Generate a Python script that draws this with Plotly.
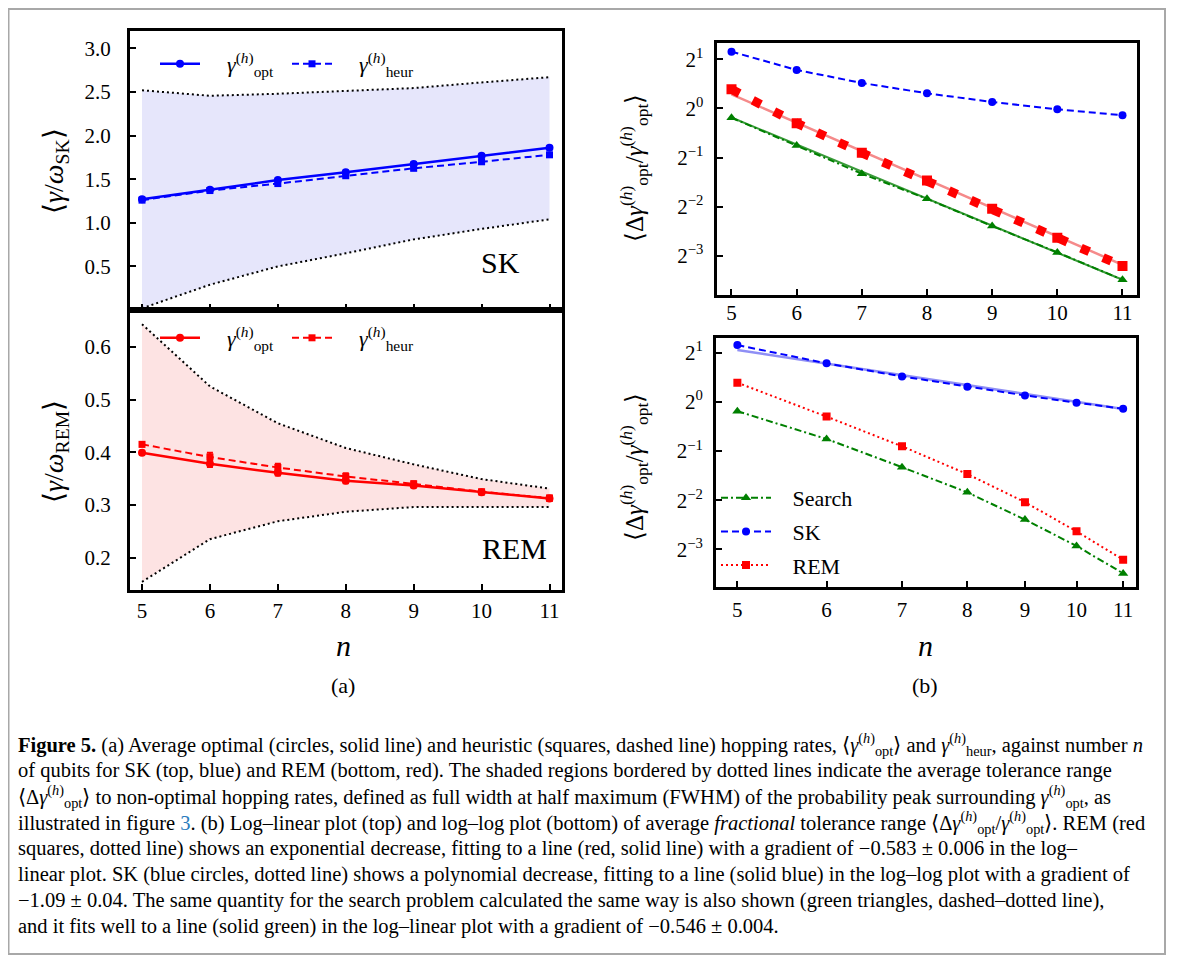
import plotly.graph_objects as go

# ---------------- data ----------------
n = [5, 6, 7, 8, 9, 10, 11]

# panel (a) top: SK
sk_opt = [1.27, 1.38, 1.49, 1.58, 1.675, 1.77, 1.86]
sk_heur = [1.26, 1.37, 1.45, 1.54, 1.625, 1.70, 1.78]
sk_opt_err = [0.02, 0.02, 0.02, 0.02, 0.02, 0.02, 0.02]
sk_heur_err = [0.02, 0.02, 0.02, 0.02, 0.02, 0.02, 0.02]
sk_upper = [2.52, 2.457, 2.48, 2.51, 2.545, 2.61, 2.67]
sk_lower = [0.02, 0.29, 0.50, 0.65, 0.81, 0.93, 1.04]

# panel (a) bottom: REM
rem_opt = [0.399, 0.378, 0.361, 0.346, 0.337, 0.324, 0.312]
rem_heur = [0.415, 0.391, 0.371, 0.354, 0.340, 0.325, 0.313]
rem_opt_err = [0.004, 0.006, 0.005, 0.005, 0.004, 0.004, 0.004]
rem_heur_err = [0.004, 0.008, 0.007, 0.006, 0.005, 0.004, 0.005]
rem_upper = [0.643, 0.525, 0.455, 0.408, 0.377, 0.349, 0.331]
rem_lower = [0.154, 0.235, 0.269, 0.287, 0.296, 0.296, 0.296]

# panel (b): fractional tolerance range
frac_sk = [2.228, 1.721, 1.432, 1.238, 1.095, 0.988, 0.908]
frac_rem = [1.31, 0.812, 0.534, 0.361, 0.243, 0.161, 0.108]
frac_search = [0.877, 0.592, 0.398, 0.279, 0.190, 0.131, 0.089]

# fitted lines (end points)
fit_n = [5, 11]
fit_rem = [1.22, 0.110]
fit_search = [0.88, 0.089]
fit_sk = [2.077, 0.905]

a_top_ticks = [0.5, 1.0, 1.5, 2.0, 2.5, 3.0]
a_bot_ticks = [0.2, 0.3, 0.4, 0.5, 0.6]
b_ticks = [2, 1, 0.5, 0.25, 0.125]
b_ticktext = ["2<sup>1</sup>", "2<sup>0</sup>", "2<sup>\u22121</sup>",
              "2<sup>\u22122</sup>", "2<sup>\u22123</sup>"]

caption_lines = [
    "<b>Figure 5.</b> (a) Average optimal (circles, solid line) and heuristic (squares, dashed line) hopping rates, "
    "\u27e8<i>\u03b3</i><sup>(<i>h</i>)</sup><sub>opt</sub>\u27e9 and <i>\u03b3</i><sup>(<i>h</i>)</sup><sub>heur</sub>, against number <i>n</i>",
    "of qubits for SK (top, blue) and REM (bottom, red). The shaded regions bordered by dotted lines indicate the average tolerance range",
    "\u27e8\u0394<i>\u03b3</i><sup>(<i>h</i>)</sup><sub>opt</sub>\u27e9 to non-optimal hopping rates, defined as full width at half maximum (FWHM) of the probability peak surrounding "
    "<i>\u03b3</i><sup>(<i>h</i>)</sup><sub>opt</sub>, as",
    "illustrated in figure <span style=\"color:#2b7bbd\">3</span>. (b) Log\u2013linear plot (top) and log\u2013log plot (bottom) of average <i>fractional</i> tolerance range "
    "\u27e8\u0394<i>\u03b3</i><sup>(<i>h</i>)</sup><sub>opt</sub>/<i>\u03b3</i><sup>(<i>h</i>)</sup><sub>opt</sub>\u27e9. REM (red",
    "squares, dotted line) shows an exponential decrease, fitting to a line (red, solid line) with a gradient of \u22120.583 \u00b1 0.006 in the log\u2013",
    "linear plot. SK (blue circles, dotted line) shows a polynomial decrease, fitting to a line (solid blue) in the log\u2013log plot with a gradient of",
    "\u22121.09 \u00b1 0.04. The same quantity for the search problem calculated the same way is also shown (green triangles, dashed\u2013dotted line),",
    "and it fits well to a line (solid green) in the log\u2013linear plot with a gradient of \u22120.546 \u00b1 0.004.",
]
caption_y = [744, 770, 796, 822, 848, 874, 900, 926]

# ---------------- geometry helpers ----------------
W, H, OFF = 1166, 947, 8


def px(x):
    return (x - OFF) / W


def py(y):
    return 1 - (y - OFF) / H


FONT = "Liberation Serif"
BLUE = "#0000ff"
RED = "#ff0000"
GREEN = "#008000"
DOT = "2px,3px"
DASH = "7px,4px"
DASHDOT = "7px,3px,2px,3px"
SP = "\u00a0"

fig = go.Figure()

# ---- (a) top: SK ----
fig.add_trace(go.Scatter(x=n, y=sk_lower, mode="lines", line=dict(color="black", width=2, dash=DOT),
                         xaxis="x", yaxis="y", showlegend=False, hoverinfo="skip"))
fig.add_trace(go.Scatter(x=n, y=sk_upper, mode="lines", line=dict(color="black", width=2, dash=DOT),
                         fill="tonexty", fillcolor="#e6e6fb",
                         xaxis="x", yaxis="y", showlegend=False, hoverinfo="skip"))
fig.add_trace(go.Scatter(x=n, y=sk_opt, mode="lines+markers",
                         name=SP * 4 + "<i>\u03b3</i><sup>(<i>h</i>)</sup><sub>opt</sub>",
                         line=dict(color=BLUE, width=2.5), marker=dict(symbol="circle", size=8, color=BLUE),
                         error_y=dict(type="data", array=sk_opt_err, color=BLUE, thickness=2, width=3),
                         xaxis="x", yaxis="y", legend="legend"))
fig.add_trace(go.Scatter(x=n, y=sk_heur, mode="lines+markers",
                         name=SP * 4 + "<i>\u03b3</i><sup>(<i>h</i>)</sup><sub>heur</sub>",
                         line=dict(color=BLUE, width=2, dash=DASH), marker=dict(symbol="square", size=7, color=BLUE),
                         error_y=dict(type="data", array=sk_heur_err, color=BLUE, thickness=2, width=3),
                         xaxis="x", yaxis="y", legend="legend"))

# ---- (a) bottom: REM ----
fig.add_trace(go.Scatter(x=n, y=rem_lower, mode="lines", line=dict(color="black", width=2, dash=DOT),
                         xaxis="x2", yaxis="y2", showlegend=False, hoverinfo="skip"))
fig.add_trace(go.Scatter(x=n, y=rem_upper, mode="lines", line=dict(color="black", width=2, dash=DOT),
                         fill="tonexty", fillcolor="#fde3e3",
                         xaxis="x2", yaxis="y2", showlegend=False, hoverinfo="skip"))
fig.add_trace(go.Scatter(x=n, y=rem_opt, mode="lines+markers",
                         name=SP * 4 + "<i>\u03b3</i><sup>(<i>h</i>)</sup><sub>opt</sub>",
                         line=dict(color=RED, width=2.5), marker=dict(symbol="circle", size=8, color=RED),
                         error_y=dict(type="data", array=rem_opt_err, color=RED, thickness=2, width=3),
                         xaxis="x2", yaxis="y2", legend="legend2"))
fig.add_trace(go.Scatter(x=n, y=rem_heur, mode="lines+markers",
                         name=SP * 4 + "<i>\u03b3</i><sup>(<i>h</i>)</sup><sub>heur</sub>",
                         line=dict(color=RED, width=2, dash=DASH), marker=dict(symbol="square", size=7, color=RED),
                         error_y=dict(type="data", array=rem_heur_err, color=RED, thickness=2, width=3),
                         xaxis="x2", yaxis="y2", legend="legend2"))

# ---- (b) top: log-linear ----
fig.add_trace(go.Scatter(x=fit_n, y=fit_search, mode="lines", line=dict(color="#3a9a3a", width=2),
                         xaxis="x3", yaxis="y3", showlegend=False, hoverinfo="skip"))
fig.add_trace(go.Scatter(x=n, y=frac_search, mode="lines+markers", line=dict(color=GREEN, width=2, dash=DASHDOT),
                         marker=dict(symbol="triangle-up", size=9, color=GREEN),
                         xaxis="x3", yaxis="y3", showlegend=False))
fig.add_trace(go.Scatter(x=fit_n, y=fit_rem, mode="lines", line=dict(color="#f58a8a", width=2.5),
                         xaxis="x3", yaxis="y3", showlegend=False, hoverinfo="skip"))
fig.add_trace(go.Scatter(x=n, y=frac_rem, mode="lines+markers", line=dict(color=RED, width=9, dash="9px,15px"),
                         marker=dict(symbol="square", size=10, color=RED),
                         xaxis="x3", yaxis="y3", showlegend=False))
fig.add_trace(go.Scatter(x=n, y=frac_sk, mode="lines+markers", line=dict(color=BLUE, width=2, dash=DASH),
                         marker=dict(symbol="circle", size=8, color=BLUE),
                         xaxis="x3", yaxis="y3", showlegend=False))

# ---- (b) bottom: log-log ----
fig.add_trace(go.Scatter(x=fit_n, y=fit_sk, mode="lines", line=dict(color="#8f8ff5", width=2.5),
                         xaxis="x4", yaxis="y4", showlegend=False, hoverinfo="skip"))
fig.add_trace(go.Scatter(x=n, y=frac_search, mode="lines+markers", name=SP * 3 + "Search",
                         line=dict(color=GREEN, width=2, dash=DASHDOT),
                         marker=dict(symbol="triangle-up", size=9, color=GREEN),
                         xaxis="x4", yaxis="y4", legend="legend3", legendgroup="g1"))
fig.add_trace(go.Scatter(x=n, y=frac_sk, mode="lines+markers", name=SP * 3 + "SK",
                         line=dict(color=BLUE, width=2, dash=DASH),
                         marker=dict(symbol="circle", size=8, color=BLUE),
                         xaxis="x4", yaxis="y4", legend="legend3", legendgroup="g2"))
fig.add_trace(go.Scatter(x=n, y=frac_rem, mode="lines+markers", name=SP * 3 + "REM",
                         line=dict(color=RED, width=2, dash=DOT),
                         marker=dict(symbol="square", size=8, color=RED),
                         xaxis="x4", yaxis="y4", legend="legend3", legendgroup="g3"))

# ---------------- axes ----------------
common = dict(showline=True, linewidth=3, linecolor="black", mirror=True, ticks="inside",
              ticklen=6, tickwidth=2, tickcolor="black", showgrid=False, zeroline=False,
              tickfont=dict(family=FONT, size=21, color="black"))

xa_dom = [px(130), px(562)]
xb_dom = [px(716.5), px(1136.5)]

fig.update_layout(
    xaxis=dict(common, domain=xa_dom, anchor="y", range=[4.823, 11.184], tickvals=n, showticklabels=False),
    yaxis=dict(common, domain=[py(310), py(31)], anchor="x", range=[0.0, 3.2], tickvals=a_top_ticks,
               tickformat=".1f", ticklabelstandoff=12),
    xaxis2=dict(common, domain=xa_dom, anchor="y2", range=[4.823, 11.184], tickvals=n, ticklabelstandoff=0),
    yaxis2=dict(common, domain=[py(590), py(310)], anchor="x2", range=[0.1385, 0.670], tickvals=a_bot_ticks,
                tickformat=".1f", ticklabelstandoff=12),
    xaxis3=dict(common, domain=xb_dom, anchor="y3", range=[4.77, 11.215], tickvals=n, ticklabelstandoff=-3),
    yaxis3=dict(common, domain=[py(295), py(43.3)], anchor="x3", type="log", range=[-1.1439, 0.3992],
                tickvals=b_ticks, ticktext=b_ticktext, ticklabelstandoff=6),
    xaxis4=dict(common, domain=[px(716), px(1136)], anchor="y4", type="log", range=[0.680, 1.0528],
                tickvals=n, ticktext=[str(v) for v in n], ticklabelstandoff=1),
    yaxis4=dict(common, domain=[py(587.3), py(338.3)], anchor="x4", type="log", range=[-1.1358, 0.3892],
                tickvals=b_ticks, ticktext=b_ticktext, ticklabelstandoff=6),
)

leg_font = dict(family=FONT, size=22, color="black")
fig.update_layout(
    legend=dict(orientation="h", x=px(155), y=py(64), xanchor="left", yanchor="middle",
                itemwidth=40, entrywidth=77, entrywidthmode="pixels", font=leg_font,
                traceorder="normal", bgcolor="rgba(0,0,0,0)", borderwidth=0),
    legend2=dict(orientation="h", x=px(155), y=py(338), xanchor="left", yanchor="middle",
                 itemwidth=40, entrywidth=77, entrywidthmode="pixels", font=leg_font,
                 traceorder="normal", bgcolor="rgba(0,0,0,0)", borderwidth=0),
    legend3=dict(orientation="v", x=px(716), y=py(477), xanchor="left", yanchor="top",
                 itemwidth=50, font=leg_font, traceorder="grouped", tracegroupgap=2,
                 bgcolor="rgba(0,0,0,0)", borderwidth=0),
)

# ---------------- annotations ----------------
ann = []


def add_text(x, y, text, size, angle=0, anchor="center"):
    ann.append(dict(x=px(x), y=py(y), xref="paper", yref="paper", xanchor=anchor, yanchor="middle",
                    textangle=angle, showarrow=False, text=text,
                    font=dict(family=FONT, size=size, color="black")))


add_text(55, 171, "\u27e8<i>\u03b3</i>/<i>\u03c9</i><sub>SK</sub>\u27e9", 28, -90)
add_text(55, 452, "\u27e8<i>\u03b3</i>/<i>\u03c9</i><sub>REM</sub>\u27e9", 28, -90)
for yc in (168, 467):
    add_text(634, yc, "\u27e8\u0394<i>\u03b3</i><sup>(<i>h</i>)</sup><sub>opt</sub>/<i>\u03b3</i>"
                      "<sup>(<i>h</i>)</sup><sub>opt</sub>\u27e9", 25, -90)
add_text(500, 263, "SK", 30)
add_text(515, 548, "REM", 30)
for xc in (343, 925):
    add_text(xc, 645, "<i>n</i>", 30)
add_text(343, 685, "(a)", 22)
add_text(925, 685, "(b)", 22)
for line, yc in zip(caption_lines, caption_y):
    add_text(16, yc, line, 20.5, anchor="left")

fig.update_layout(
    annotations=ann,
    shapes=[dict(type="rect", xref="paper", yref="paper", x0=px(8.5), x1=px(1165), y0=py(954), y1=py(9),
                 line=dict(color="#a8a8a8", width=2), fillcolor="rgba(0,0,0,0)", layer="below")],
    width=W, height=H, margin=dict(l=0, r=0, t=0, b=0, autoexpand=False),
    paper_bgcolor="white", plot_bgcolor="rgba(0,0,0,0)",
    font=dict(family=FONT, color="black"),
)

fig.write_html("out.html")
